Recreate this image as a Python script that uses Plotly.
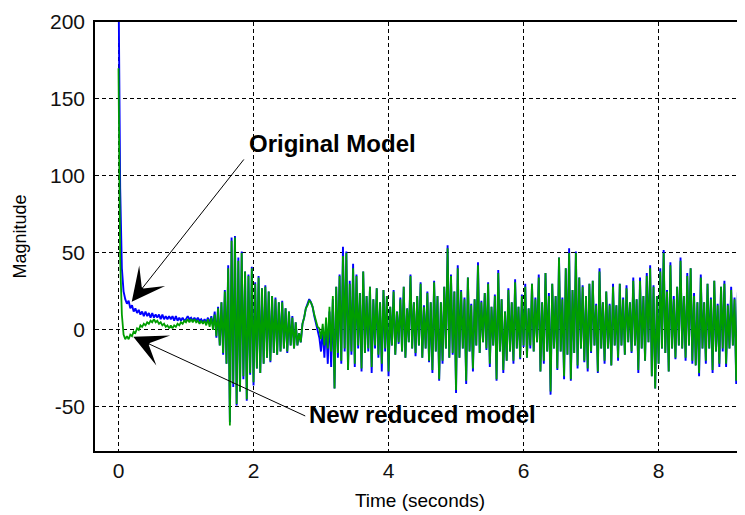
import numpy as np
import plotly.graph_objects as go

# Sample spacing of the read-off time series (seconds)
dt = 0.025

# ---- Original model (blue), one list per second of time ----
orig_0 = [230, 92, 40, 25, 20, 17, 19, 14, 16, 12, 14, 11, 13, 10, 12, 9, 12, 9, 11, 8,
          11, 8, 10, 8, 10, 7, 10, 7, 9, 7, 9, 7, 9, 6, 9, 6, 8, 6, 8, 6]
orig_1 = [7, 9, 7, 8, 6, 8, 6, 8, 6, 7, 5, 7, 5, 8, 4, 9, 2, 12, -5, 15,
          -10, 18, -16, 26, -22, 42, -60, 60, -37, 61, -49, 47, -40, 51, -32, 38, -46, 36, -29, 41]
orig_2 = [-36, 31, -25, 35, -28, 27, -22, 29, -18, 25, -21, 22, -15, 21, -16, 18, -14, 19, -12, 14,
          -15, 12, -10, 9, -12, 5, -10, -2, -8, 4, 8, 14, 17, 20, 18, 15, 9, 4, -2, -5]
orig_3 = [-14, 0, -18, 5, -22, 12, -24, 20, -38, 28, -18, 36, -22, 54, -14, 51, -26, 32, -16, 43,
          -24, 36, -12, 24, -27, 38, -15, 22, -14, 28, -28, 20, -12, 27, -18, 18, -27, 26, -14, 22]
orig_4 = [-30, 15, -10, 26, -16, 12, -9, 21, -14, 28, -18, 14, -8, 36, -12, 18, -17, 22, -10, 31,
          -18, 16, -12, 25, -21, 18, -28, 32, -14, 22, -33, 18, -22, 28, -12, 55, -18, 36, -16, 25]
orig_5 = [-41, 42, -18, 26, -12, 21, -35, 34, -14, 17, -27, 20, -10, 44, -15, 19, -8, 24, -13, 31,
          -24, 15, -10, 23, -33, 39, -14, 20, -28, 12, -20, 27, -14, 18, -22, 33, -12, 15, -19, 23]
orig_6 = [-11, 30, -18, 14, -12, 30, -14, 21, -8, 36, -27, 18, -22, 37, -14, 24, -42, 30, -12, 22,
          -26, 47, -14, 21, -32, 40, -16, 53, -33, 26, -15, 51, -25, 34, -12, 29, -21, 22, -27, 30]
orig_7 = [-15, 32, -10, 17, -28, 40, -12, 18, -22, 25, -12, 17, -23, 30, -10, 16, -20, 30, -10, 21,
          -16, 29, -8, 18, -15, 34, -10, 20, -28, 34, -12, 22, -20, 37, -8, 42, -30, 29, -38, 22]
orig_8 = [-22, 40, -12, 52, -15, 26, -27, 44, -12, 22, -19, 28, -10, 47, -12, 22, -20, 37, -10, 40,
          -22, 24, -23, 18, -30, 36, -12, 18, -22, 30, -12, 21, -28, 32, -14, 17, -24, 28, -14, 32]
orig_9 = [-24, 17, -12, 28, -10, 21, -35, 25, -12, 19, -22, 24, -14]

# ---- New reduced model (green), one list per second of time ----
new_0 = [170, 45, 10, -3, -6, -4, -6, -3, -4, -1, -2, 1, 0, 3, 2, 4, 3, 5, 4, 6,
         5, 7, 5, 6, 4, 5, 3, 4, 2, 3, 1, 3, 1, 3, 2, 4, 3, 5, 4, 6]
new_1 = [5, 7, 5, 7, 5, 7, 5, 6, 4, 6, 4, 6, 3, 7, 2, 8, 0, 10, -4, 14,
         -10, 18, -15, 25, -22, 40, -62, 58, -35, 60, -48, 45, -40, 50, -30, 38, -45, 35, -28, 40]
new_2 = [-34, 30, -25, 34, -28, 27, -22, 28, -18, 25, -20, 22, -15, 20, -16, 18, -14, 18, -12, 14,
         -14, 12, -10, 8, -12, 5, -10, -2, -8, 4, 8, 14, 16, 19, 18, 15, 10, 6, 2, 1]
new_3 = [-6, 4, -10, 8, -12, 15, -14, 22, -38, 28, -15, 35, -20, 48, -12, 50, -26, 30, -14, 40,
         -22, 35, -10, 24, -25, 38, -15, 22, -12, 28, -24, 20, -10, 27, -16, 18, -22, 26, -12, 22]
new_4 = [-27, 15, -10, 25, -16, 12, -8, 20, -14, 28, -18, 14, -8, 35, -12, 18, -15, 22, -10, 30,
         -18, 15, -12, 24, -20, 18, -26, 31, -14, 22, -32, 18, -20, 28, -12, 53, -18, 35, -15, 25]
new_5 = [-39, 40, -18, 25, -12, 20, -33, 34, -14, 16, -25, 20, -10, 42, -15, 18, -8, 24, -12, 30,
         -22, 15, -10, 22, -32, 37, -14, 20, -26, 12, -20, 26, -14, 18, -20, 31, -12, 15, -18, 22]
new_6 = [-10, 28, -18, 14, -10, 30, -14, 20, -8, 34, -27, 18, -20, 37, -14, 22, -40, 30, -12, 22,
         -25, 47, -14, 20, -30, 40, -16, 50, -32, 26, -15, 50, -23, 34, -12, 28, -20, 22, -25, 30]
new_7 = [-14, 32, -10, 16, -27, 38, -12, 18, -20, 25, -12, 16, -23, 28, -10, 16, -18, 30, -10, 20,
         -16, 27, -8, 18, -14, 32, -10, 20, -26, 32, -12, 22, -20, 35, -8, 40, -30, 28, -38, 22]
new_8 = [-22, 38, -12, 50, -15, 25, -27, 42, -12, 20, -18, 28, -10, 45, -12, 22, -18, 35, -10, 40,
         -20, 22, -23, 18, -28, 34, -12, 18, -20, 30, -12, 20, -26, 32, -14, 16, -22, 28, -12, 30]
new_9 = [-22, 16, -12, 26, -10, 20, -33, 25, -12, 18, -20, 22, -14]

x_ticks = [0, 2, 4, 6, 8]
y_ticks = [-50, 0, 50, 100, 150, 200]

orig_model = orig_0 + orig_1 + orig_2 + orig_3 + orig_4 + orig_5 + orig_6 + orig_7 + orig_8 + orig_9
new_model = new_0 + new_1 + new_2 + new_3 + new_4 + new_5 + new_6 + new_7 + new_8 + new_9
time = np.round(np.arange(len(new_model)) * dt, 3)

fig = go.Figure()
fig.add_trace(go.Scatter(x=time, y=orig_model, mode="lines",
                         line=dict(color="#0000FF", width=1.9), showlegend=False))
fig.add_trace(go.Scatter(x=time, y=new_model, mode="lines",
                         line=dict(color="#009E00", width=1.8), showlegend=False))

font_main = "Liberation Sans, Arial, sans-serif"

# page body has an 8px default margin, so the figure is sized/offset to compensate
fig.update_layout(
    width=737, height=507,
    margin=dict(l=87, r=0, t=14, b=64),
    paper_bgcolor="white", plot_bgcolor="white",
    font=dict(family=font_main, color="black"),
    showlegend=False,
)
fig.update_xaxes(
    range=[-0.348, 9.28], tickvals=x_ticks, ticktext=[str(v) for v in x_ticks],
    showline=True, linecolor="black", linewidth=1.5, mirror=True,
    showgrid=True, gridcolor="black", gridwidth=1, griddash="4px,3px",
    zeroline=False, ticks="", tickfont=dict(size=21, color="#111"),
    ticklabelstandoff=0, layer="above traces", automargin=False,
    title=dict(text="Time (seconds)", font=dict(size=19), standoff=13),
)
fig.update_yaxes(
    range=[-78.6, 200], tickvals=y_ticks, ticktext=[str(v) for v in y_ticks],
    showline=True, linecolor="black", linewidth=1.5,
    showgrid=True, gridcolor="black", gridwidth=1, griddash="4px,3px",
    zeroline=False, ticks="", tickfont=dict(size=21, color="#111"),
    ticklabelstandoff=4, layer="above traces", automargin=False,
    title=dict(text="Magnitude", font=dict(size=18), standoff=19),
)

# text labels
fig.add_annotation(x=1.904, y=121.4, xref="x", yref="y", text="<b>Original Model</b>",
                   showarrow=False, xanchor="left", yanchor="middle",
                   font=dict(size=24, family=font_main, color="black"))
fig.add_annotation(x=2.793, y=-55.2, xref="x", yref="y", text="<b>New reduced model</b>",
                   showarrow=False, xanchor="left", yanchor="middle",
                   font=dict(size=24, family=font_main, color="black"))
# arrows
fig.add_annotation(x=0.196, y=18.4, ax=1.874, ay=111.7, xref="x", yref="y",
                   axref="x", ayref="y", text="", showarrow=True,
                   arrowhead=3, arrowsize=5.5, arrowwidth=1, arrowcolor="black")
fig.add_annotation(x=0.219, y=-4.35, ax=2.788, ay=-56.3, xref="x", yref="y",
                   axref="x", ayref="y", text="", showarrow=True,
                   arrowhead=3, arrowsize=5.5, arrowwidth=1, arrowcolor="black")

fig.write_html("out.html")
